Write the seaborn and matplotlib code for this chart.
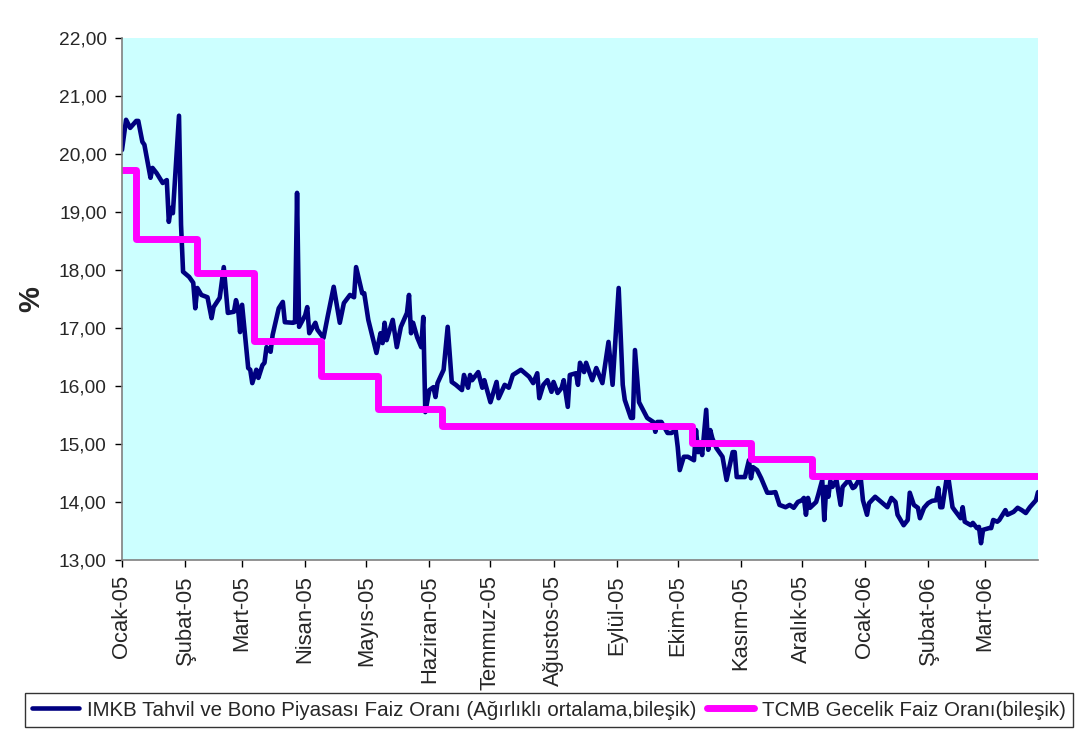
import numpy as np
import pandas as pd
import matplotlib
matplotlib.use("Agg")
import matplotlib.pyplot as plt
import matplotlib.dates as mdates
from matplotlib.ticker import FixedLocator, FuncFormatter
import seaborn as sns

# ---- data -------------------------------------------------------------
start_date = pd.Timestamp("2005-01-01")

# IMKB bond market rate: day offsets from 1 Jan 2005 and rate (%)
imkb_days = [0, 2, 4, 7, 8, 10, 11, 14, 15, 17, 20, 22, 23, 24, 25, 28, 29, 30, 33, 35,
             36, 37, 39, 42, 44, 45, 48, 50, 52, 55, 56, 57, 58, 59, 62, 63, 64, 66, 67, 69,
             70, 71, 73, 74, 76, 77, 79, 80, 84, 85, 86, 87, 90, 91, 92, 95, 96, 99, 101, 104,
             107, 109, 112, 114, 115, 118, 119, 121, 125, 127, 128, 129, 130, 133, 135, 137, 140, 141, 142, 143,
             145, 147, 148, 149, 151, 153, 154, 155, 158, 160, 162, 164, 167, 168, 170, 171, 172, 175, 177, 178,
             181, 184, 185, 188, 190, 192, 196, 200, 202, 204, 205, 207, 209, 211, 212, 214, 216, 217, 219, 220,
             223, 224, 225, 227, 228, 231, 233, 236, 239, 241, 244, 246, 247, 250, 251, 252, 254, 258, 261, 262,
             263, 265, 268, 270, 272, 273, 274, 276, 278, 281, 282, 283, 284, 285, 287, 288, 289, 290, 292, 295,
             297, 300, 301, 302, 306, 308, 309, 310, 312, 314, 317, 319, 321, 323, 326, 328, 330, 332, 334, 335,
             336, 337, 338, 341, 342, 344, 345, 346, 347, 348, 349, 351, 353, 354, 357, 359, 360, 362, 363, 364,
             366, 367, 370, 373, 376, 378, 380, 381, 384, 386, 387, 389, 391, 392, 394, 396, 398, 400, 401, 402,
             403, 405, 406, 408, 409, 412, 413, 414, 417, 418, 420, 421, 422, 423, 426, 427, 428, 430, 431, 434,
             435, 438, 440, 442, 444, 446, 449, 450]
imkb_rate = [20.07, 20.59, 20.45, 20.57, 20.57, 20.21, 20.16, 19.59, 19.76, 19.67, 19.50, 19.55, 18.83, 19.07, 18.98, 20.66, 18.78, 17.97, 17.88, 17.78,
             17.34, 17.69, 17.57, 17.53, 17.17, 17.36, 17.52, 18.05, 17.26, 17.28, 17.48, 17.34, 16.93, 17.40, 16.31, 16.28, 16.05, 16.28, 16.14, 16.36,
             16.40, 16.67, 16.59, 16.88, 17.19, 17.34, 17.45, 17.10, 17.09, 17.10, 19.33, 17.02, 17.22, 17.36, 16.91, 17.09, 16.97, 16.83, 17.19, 17.71,
             17.09, 17.43, 17.57, 17.53, 18.05, 17.60, 17.60, 17.14, 16.57, 16.91, 16.74, 17.09, 16.79, 17.14, 16.67, 17.02, 17.26, 17.57, 16.91, 17.09,
             16.84, 16.67, 17.19, 15.55, 15.93, 15.98, 15.81, 16.05, 16.28, 17.02, 16.07, 16.02, 15.93, 16.19, 15.97, 16.19, 16.10, 16.24, 15.97, 16.10,
             15.72, 16.07, 15.79, 16.02, 15.97, 16.19, 16.28, 16.16, 16.05, 16.22, 15.79, 16.02, 16.10, 15.90, 16.07, 15.88, 15.97, 16.10, 15.64, 16.19,
             16.22, 16.02, 16.40, 16.24, 16.40, 16.10, 16.31, 16.05, 16.76, 16.02, 17.69, 16.02, 15.76, 15.45, 15.45, 16.62, 15.72, 15.45, 15.38, 15.21,
             15.38, 15.38, 15.19, 15.19, 15.24, 14.95, 14.55, 14.78, 14.78, 14.72, 15.24, 14.86, 15.03, 14.81, 15.59, 14.90, 15.24, 15.10, 14.93, 14.78,
             14.38, 14.86, 14.86, 14.43, 14.43, 14.72, 14.41, 14.60, 14.55, 14.41, 14.16, 14.16, 14.17, 13.95, 13.91, 13.95, 13.90, 14.00, 14.03, 14.07,
             13.78, 14.07, 13.90, 14.00, 14.12, 14.38, 13.69, 14.26, 14.09, 14.36, 14.26, 14.38, 13.95, 14.26, 14.38, 14.24, 14.26, 14.38, 14.38, 14.03,
             13.78, 13.98, 14.09, 14.00, 13.91, 14.07, 14.00, 13.78, 13.60, 13.69, 14.16, 13.95, 13.90, 13.72, 13.90, 13.98, 14.02, 14.03, 14.24, 13.91,
             13.91, 14.38, 14.41, 13.91, 13.86, 13.72, 13.91, 13.66, 13.60, 13.64, 13.55, 13.57, 13.29, 13.52, 13.55, 13.55, 13.69, 13.66, 13.69, 13.86,
             13.78, 13.83, 13.90, 13.86, 13.81, 13.91, 14.03, 14.17]
assert len(imkb_days) == len(imkb_rate)

# TCMB overnight rate: day offsets of each change and the compounded rate (%)
tcmb_days = [0, 7, 37, 65, 98, 126, 157, 280, 309, 339, 450]
tcmb_rate = [19.72, 18.53, 17.94, 16.77, 16.18, 15.60, 15.31, 15.02, 14.74, 14.45, 14.45]

month_labels = ["Ocak-05", "Şubat-05", "Mart-05", "Nisan-05", "Mayıs-05", "Haziran-05",
                "Temmuz-05", "Ağustos-05", "Eylül-05", "Ekim-05", "Kasım-05", "Aralık-05",
                "Ocak-06", "Şubat-06", "Mart-06"]

imkb_label = "IMKB Tahvil ve Bono Piyasası Faiz Oranı (Ağırlıklı ortalama,bileşik)"
tcmb_label = "TCMB Gecelik Faiz Oranı(bileşik)"

imkb = pd.DataFrame({"tarih": start_date + pd.to_timedelta(imkb_days, unit="D"),
                     "oran": imkb_rate})
tcmb = pd.DataFrame({"tarih": start_date + pd.to_timedelta(tcmb_days, unit="D"),
                     "oran": tcmb_rate})

# ---- figure -------------------------------------------------------------
sns.set_style("white")
plt.rcParams["font.family"] = ["Liberation Sans", "DejaVu Sans"]

fig = plt.figure(figsize=(10.83, 7.40), dpi=100)
ax = fig.add_axes([122 / 1083, 1 - 560 / 740, 916 / 1083, 522 / 740])
ax.set_facecolor("#CCFFFF")

sns.lineplot(data=imkb, x="tarih", y="oran", ax=ax, color="#000080", linewidth=3.3,
             label=imkb_label, solid_joinstyle="round", solid_capstyle="round")
sns.lineplot(data=tcmb, x="tarih", y="oran", ax=ax, color="#FF00FF", linewidth=5.0,
             drawstyle="steps-post", label=tcmb_label,
             solid_joinstyle="round", solid_capstyle="round")

ax.set_xlim(start_date, start_date + pd.Timedelta(days=450))
ax.set_ylim(13, 22)

# y axis
ax.set_yticks(np.arange(13, 22.01, 1))
ax.yaxis.set_major_formatter(FuncFormatter(lambda v, p: f"{v:.2f}".replace(".", ",")))
ax.set_ylabel("%", fontsize=21, fontweight="bold", labelpad=10)

# x axis: month starts with Turkish labels
month_starts = pd.date_range("2005-01-01", periods=len(month_labels), freq="MS")
ax.xaxis.set_major_locator(FixedLocator(mdates.date2num(month_starts)))
ax.set_xticklabels(month_labels, rotation=90, fontsize=15.8)
ax.set_xlabel("")

ax.tick_params(axis="y", labelsize=13.8, length=5, width=1, direction="out", color="black", pad=6)
ax.tick_params(axis="x", length=5, width=1, direction="out", color="black", pad=6)
ax.tick_params(left=True, bottom=True)

for side in ["top", "right"]:
    ax.spines[side].set_visible(False)
for side in ["left", "bottom"]:
    ax.spines[side].set_color("#808080")
    ax.spines[side].set_linewidth(1.2)

# legend below the axis
handles, labels = ax.get_legend_handles_labels()
ax.get_legend().remove()
leg = fig.legend(handles, labels, ncol=2, loc="center",
                 bbox_to_anchor=(549 / 1083, 1 - 710 / 740),
                 fontsize=14.8, frameon=True, fancybox=False, edgecolor="black",
                 handlelength=2.3, handletextpad=0.4, columnspacing=0.5,
                 borderpad=0.35, borderaxespad=0)
leg.get_frame().set_linewidth(1.0)

fig.savefig("out.png", dpi=100, facecolor="white")
